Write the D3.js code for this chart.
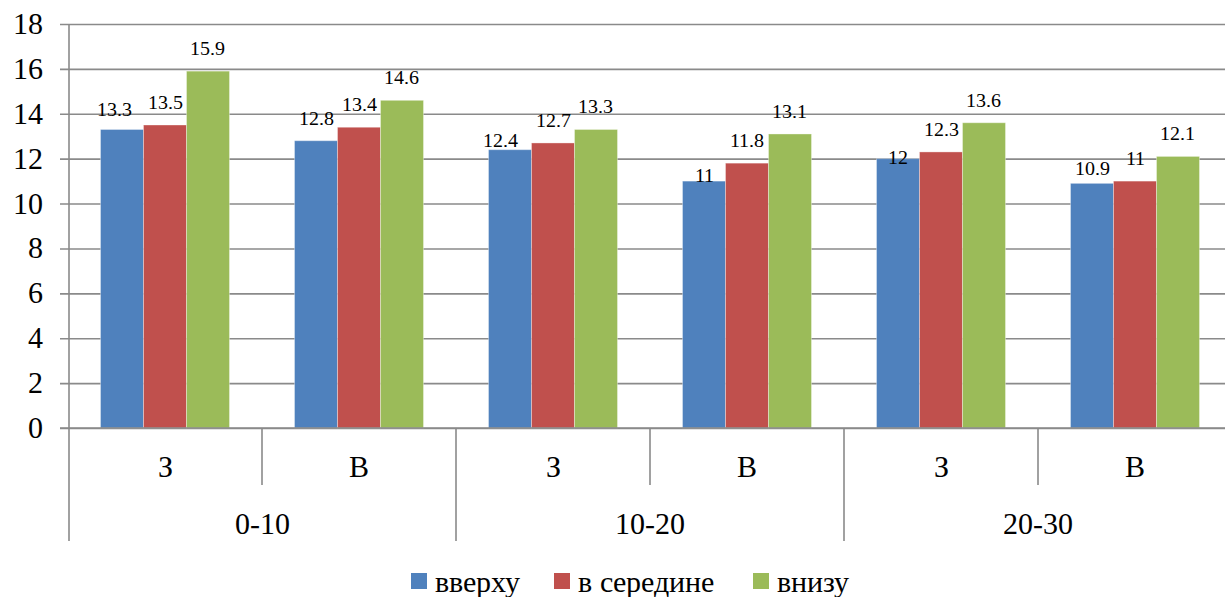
<!DOCTYPE html>
<html>
<head>
<meta charset="utf-8">
<script src="https://cdn.jsdelivr.net/npm/d3@7"></script>
<style>
  @font-face {
    font-family: "ChartSerif";
    src: local("Liberation Serif"), local("LiberationSerif"), local("LiberationSerif-Regular"), local("Times New Roman"), local("Tinos");
  }
  .lbl { font-family: "ChartSerif", "Liberation Serif", serif; }
</style>
</head>
<body style="margin:0;background:#fff">
<svg id="depthBars" width="1225" height="597" style="display:block" font-family="serif"></svg>
<script>
// Depth ranges (outer category) and side (inner category)
const depthGroups = ["0-10", "10-20", "20-30"];
const sides = ["З", "В"];

// Series names and values, one per column (0-10 З, 0-10 В, 10-20 З, ...)
const seriesNames = ["вверху", "в середине", "внизу"];
const valuesTop = [13.3, 12.8, 12.4, 11, 12, 10.9];
const valuesMiddle = [13.5, 13.4, 12.7, 11.8, 12.3, 11];
const valuesBottom = [15.9, 14.6, 13.3, 13.1, 13.6, 12.1];

// Y axis ticks
const yTicks = [0, 2, 4, 6, 8, 10, 12, 14, 16, 18];

// Label placement tweaks for the first series (pixels above the bar top, horizontal shift)
const topLabelGap = [13, 16, 3, -1, -5, 8];
const topLabelShift = [-8, 0, -10, 0, 0, 0];

const colors = ["#4F81BD", "#C0504D", "#9BBB59"];
const seriesValues = [valuesTop, valuesMiddle, valuesBottom];

const columns = [];
depthGroups.forEach(g => sides.forEach(s => columns.push(g + "|" + s)));

const svg = d3.select("#depthBars");
const plotLeft = 68, plotRight = 1232, plotTop = 24, plotBottom = 428;

// Serif face for every text element
function serif(sel) {
  sel.attr("class", "lbl").attr("font-family", "serif");
}

const x = d3.scaleBand().domain(columns).range([plotLeft, plotRight]).padding(0);
const xs = d3.scaleBand().domain(seriesNames).range([0, x.bandwidth()])
  .paddingInner(0).paddingOuter(0.756);
const y = d3.scaleLinear().domain([0, 18]).range([plotBottom, plotTop]);

const gridColor = "#8a8a8a";

// Horizontal gridlines with small ticks to the left of the axis
const yAxis = d3.axisLeft(y).tickValues(yTicks).tickSize(-(1225 - plotLeft)).tickPadding(0).tickFormat("");
const gy = svg.append("g").attr("transform", `translate(${plotLeft},0)`).call(yAxis);
gy.attr("font-family", null).attr("font-size", null);
gy.select(".domain").remove();
gy.selectAll(".tick text").remove();
gy.selectAll(".tick line").attr("x1", -8).attr("stroke", gridColor).attr("stroke-width", 1.6);

// Y tick labels
svg.append("g").selectAll("text").data(yTicks).join("text")
  .attr("x", 43).attr("y", d => y(d) + 10)
  .attr("text-anchor", "end").attr("font-size", 30).attr("fill", "#000")
  .text(d => d).call(serif);

// Bars
const flat = [];
seriesValues.forEach((vals, si) => vals.forEach((v, ci) => flat.push({ si, ci, v })));
svg.append("g").selectAll("rect").data(flat).join("rect")
  .attr("x", d => x(columns[d.ci]) + xs(seriesNames[d.si]))
  .attr("y", d => y(d.v))
  .attr("width", xs.bandwidth())
  .attr("height", d => y(0) - y(d.v))
  .attr("fill", d => colors[d.si])
  .attr("stroke", "#ffffff").attr("stroke-opacity", 0.35).attr("stroke-width", 1);

// Category axis: baseline, vertical axis line, separators
const axisG = svg.append("g").attr("stroke", gridColor).attr("stroke-width", 1.6);
axisG.append("line").attr("x1", plotLeft - 8).attr("x2", 1225).attr("y1", y(0)).attr("y2", y(0));
axisG.append("line").attr("x1", plotLeft + 1).attr("x2", plotLeft + 1).attr("y1", plotTop).attr("y2", 541);
columns.forEach((c, i) => {
  if (i === 0) return;
  const xx = x(c);
  axisG.append("line").attr("x1", xx).attr("x2", xx)
    .attr("y1", y(0)).attr("y2", i % 2 === 0 ? 541 : 485);
});

// Inner category labels
svg.append("g").selectAll("text").data(columns).join("text")
  .attr("x", d => x(d) + x.bandwidth() / 2).attr("y", 477)
  .attr("text-anchor", "middle").attr("font-size", 30)
  .text(d => d.split("|")[1]).call(serif);

// Outer group labels
svg.append("g").selectAll("text").data(depthGroups).join("text")
  .attr("x", d => x(d + "|" + sides[0]) + x.bandwidth())
  .attr("y", 534).attr("text-anchor", "middle").attr("font-size", 30)
  .text(d => d).call(serif);

// Value labels
svg.append("g").selectAll("text").data(flat).join("text")
  .attr("x", d => x(columns[d.ci]) + xs(seriesNames[d.si]) + xs.bandwidth() / 2 + (d.si === 0 ? topLabelShift[d.ci] : 0))
  .attr("y", d => y(d.v) - (d.si === 0 ? topLabelGap[d.ci] : 16))
  .attr("text-anchor", "middle").attr("font-size", 20)
  .text(d => d.v).call(serif);

// Legend
const legendX = [411, 554, 753];
const lg = svg.append("g").selectAll("g").data(seriesNames).join("g")
  .attr("transform", (d, i) => `translate(${legendX[i]},573)`);
lg.append("rect").attr("width", 16).attr("height", 16).attr("fill", (d, i) => colors[i]);
lg.append("text").attr("x", 24).attr("y", 19).attr("font-size", 30).text(d => d).call(serif);
</script>
</body>
</html>
